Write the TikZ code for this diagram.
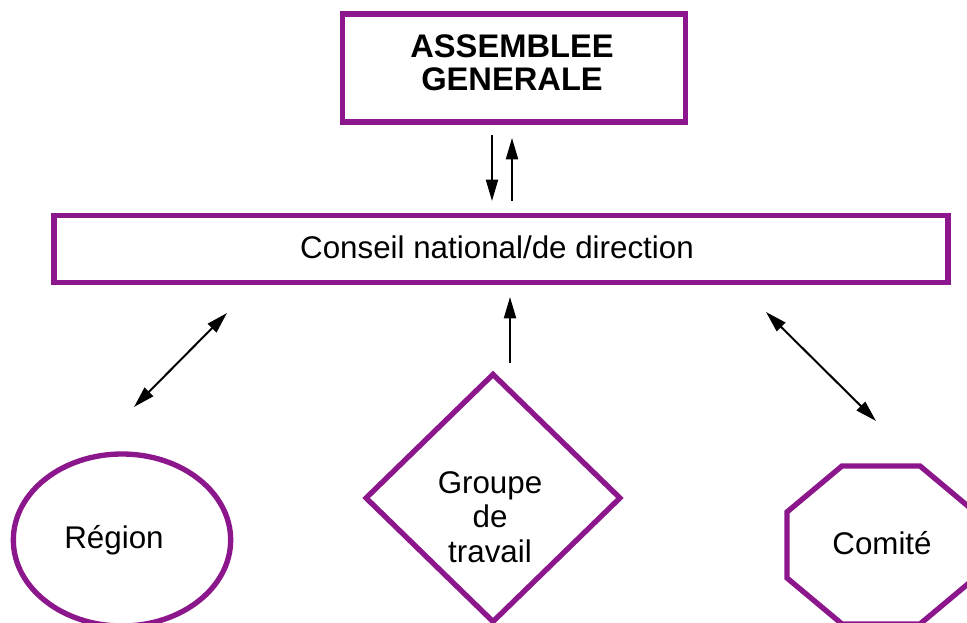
\documentclass[tikz,border=0pt]{standalone}
\usepackage{fontspec}
\setmainfont{Liberation Sans}
\usetikzlibrary{arrows.meta,shapes.geometric}
\definecolor{orgpurple}{RGB}{140,22,140}

\begin{document}
\begin{tikzpicture}[x=0.75pt,y=-0.75pt,
  orgshape/.style={draw=orgpurple, line width=4pt, align=center, inner sep=0pt},
  orgtext/.style={font=\fontsize{23.5}{26}\selectfont, align=center},
  link/.style={line width=1.5pt, -{Triangle[length=16pt,width=9pt]}},
  dlink/.style={line width=1.5pt, {Triangle[length=16pt,width=9pt]}-{Triangle[length=16pt,width=9pt]}}]
  \useasboundingbox (0,0) rectangle (967,623);
  % Top and middle boxes
  \node[orgshape, minimum width=257pt, minimum height=81pt] (asm) at (514,68) {};
  \node[font=\fontsize{24.5}{24.75}\selectfont\bfseries, align=center] (asmtxt) at (512,63)
        {ASSEMBLEE\\GENERALE};
  \node[orgshape, minimum width=670.5pt, minimum height=50.6pt] (cns) at (501,249) {};
  \node[orgtext] (cnstxt) at (497,247) {Conseil national/de direction};
  % Bottom shapes
  \node[orgshape, ellipse, minimum width=163pt, minimum height=129pt] (reg) at (122,540) {};
  \node[orgtext] (regtxt) at (114,540) {Région};
  \node[orgshape, diamond, minimum width=192pt, minimum height=187pt] (grp) at (493,498) {};
  \node[orgtext] (grptxt) at (490,517) {Groupe\\de\\travail};
  \draw[orgpurple, line width=4pt] (842,466) -- (920,466) -- (975,512) -- (975,578)
        -- (920,624) -- (842,624) -- (787,578) -- (787,512) -- cycle;
  \node[orgtext] (com) at (882,543) {Comité};
  % Arrow ends
  \coordinate (downA) at (492,135);
  \coordinate (downB) at (492,201);
  \coordinate (upA) at (512,201);
  \coordinate (upB) at (512,138);
  \coordinate (grpA) at (510,363);
  \coordinate (grpB) at (510,297);
  \coordinate (regA) at (134,407);
  \coordinate (regB) at (227,313);
  \coordinate (comA) at (766,312);
  \coordinate (comB) at (876,421);
  % Arrows
  \draw[link] (downA) -- (downB);
  \draw[link] (upA) -- (upB);
  \draw[link] (grpA) -- (grpB);
  \draw[dlink] (regA) -- (regB);
  \draw[dlink] (comA) -- (comB);
\end{tikzpicture}
\end{document}
